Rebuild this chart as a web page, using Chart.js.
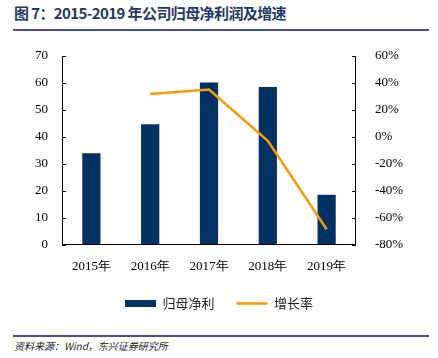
<!DOCTYPE html>
<html>
<head>
<meta charset="utf-8">
<script src="https://cdn.jsdelivr.net/npm/chart.js@4/dist/chart.umd.min.js"></script>
<style>
body { margin: 0; width: 438px; height: 358px; background: #fff; position: relative; overflow: hidden; }
#title { position: absolute; left: 14px; top: 2px; font: bold 15px "Noto Sans CJK SC", sans-serif; color: #1f3a68; letter-spacing: -0.6px; }
#topline { position: absolute; left: 13px; top: 29px; width: 416px; height: 2px; background: #4a4aa8; }
#botline { position: absolute; left: 13px; top: 335px; width: 416px; height: 2px; background: #4a4aa8; }
#src { position: absolute; left: 14px; top: 338px; font: italic 10px "Noto Sans CJK SC", sans-serif; color: #222; }
#wrap { position: absolute; left: 0; top: 40px; width: 438px; height: 280px; }
</style>
</head>
<body>
<div id="title">图 7：2015-2019 年公司归母净利润及增速</div>
<div id="topline"></div>
<div id="wrap"><canvas id="c"></canvas></div>
<div id="botline"></div>
<div id="src">资料来源：Wind，东兴证券研究所</div>
<script>
var years = ["2015年", "2016年", "2017年", "2018年", "2019年"]
var profit = [34, 44.7, 60.2, 58.5, 18.6]   // 归母净利
var growth = [null, 31.8, 35.2, -2.9, -68.3] // 增长率 %

// inward tick marks + axis lines
var inTicks = {
  id: "inTicks",
  afterDraw: function (chart) {
    var ctx = chart.ctx, a = chart.chartArea
    ctx.save()
    ctx.strokeStyle = "#000"
    ctx.lineWidth = 1
    var yl = chart.scales.y, yr = chart.scales.y1
    yl.ticks.forEach(function (t, i) {
      var p = Math.round(yl.getPixelForTick(i)) + 0.5
      ctx.beginPath(); ctx.moveTo(a.left, p); ctx.lineTo(a.left + 4, p); ctx.stroke()
    })
    yr.ticks.forEach(function (t, i) {
      var p = Math.round(yr.getPixelForTick(i)) + 0.5
      ctx.beginPath(); ctx.moveTo(a.right, p); ctx.lineTo(a.right - 4, p); ctx.stroke()
    })
    ctx.beginPath()
    ctx.moveTo(a.left + 0.5, a.top); ctx.lineTo(a.left + 0.5, a.bottom)
    ctx.moveTo(a.right - 0.5, a.top); ctx.lineTo(a.right - 0.5, a.bottom)
    ctx.moveTo(a.left, a.bottom - 0.5); ctx.lineTo(a.right, a.bottom - 0.5)
    ctx.stroke()
    ctx.restore()
  }
}

function fixY(w) {
  return function (s) { s.width = w; s.paddingTop = 0; s.paddingBottom = 0 }
}

new Chart("c", {
  type: "bar",
  data: {
    labels: years,
    datasets: [{
      label: "归母净利",
      data: profit,
      backgroundColor: "#023264",
      barPercentage: 0.62,
      categoryPercentage: 0.5,
      pointStyle: "rect",
      yAxisID: "y",
      order: 2
    }, {
      type: "line",
      label: "增长率",
      data: growth,
      borderColor: "#ff9900",
      backgroundColor: "#ff9900",
      borderWidth: 2.5,
      pointRadius: 0,
      pointStyle: "line",
      tension: 0,
      yAxisID: "y1",
      order: 1
    }]
  },
  plugins: [inTicks],
  options: {
    responsive: true,
    maintainAspectRatio: false,
    animation: false,
    layout: { padding: { top: 16, bottom: 0 } },
    plugins: {
      legend: {
        position: "bottom",
        labels: {
          color: "#222",
          font: { family: "Noto Sans CJK SC", size: 13 },
          usePointStyle: true,
          pointStyleWidth: 31,
          boxHeight: 7,
          padding: 22,
          sort: function (a, b) { return a.datasetIndex - b.datasetIndex }
        }
      },
      tooltip: { enabled: false }
    },
    scales: {
      x: {
        grid: { display: false, drawTicks: false },
        border: { display: false },
        ticks: { color: "#000", font: { family: "Liberation Serif", size: 13 }, padding: 14 },
        afterFit: function (s) { s.height = 30 }
      },
      y: {
        position: "left",
        min: 0, max: 70,
        grid: { display: false, drawTicks: false },
        border: { display: false },
        ticks: { stepSize: 10, color: "#000", font: { family: "Liberation Serif", size: 13 }, padding: 14 },
        afterFit: fixY(62)
      },
      y1: {
        position: "right",
        min: -80, max: 60,
        grid: { display: false, drawTicks: false },
        border: { display: false },
        ticks: { stepSize: 20, color: "#000", font: { family: "Liberation Serif", size: 13 }, padding: 19,
          callback: function (v) { return v + "%" } },
        afterFit: fixY(82)
      }
    }
  }
})
</script>
</body>
</html>
